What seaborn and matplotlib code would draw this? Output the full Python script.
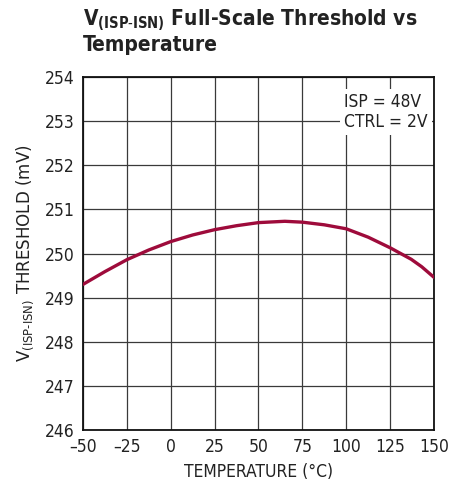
import numpy as np
import pandas as pd
import seaborn as sns
import matplotlib.pyplot as plt

# datos
temperatura = [-50, -37.5, -25, -12.5, 0, 12.5, 25, 37.5, 50, 65, 75, 87.5, 100, 112.5, 125, 137, 143, 150]
umbral_mv = [249.30, 249.59, 249.86, 250.08, 250.27, 250.42, 250.54, 250.63, 250.70, 250.73,
             250.71, 250.65, 250.56, 250.37, 250.13, 249.87, 249.70, 249.46]

x_ticks = [-50, -25, 0, 25, 50, 75, 100, 125, 150]
x_labels = ["\u201350", "\u201325", "0", "25", "50", "75", "100", "125", "150"]
y_ticks = [246, 247, 248, 249, 250, 251, 252, 253, 254]

df = pd.DataFrame({"temp": temperatura, "umbral": umbral_mv})

sns.set_theme(style="white")
plt.rcParams["font.family"] = ["DejaVu Sans"]
plt.rcParams["font.stretch"] = "condensed"
plt.rcParams["mathtext.default"] = "regular"

fig = plt.figure(figsize=(4.65, 4.91), dpi=100)
ax = fig.add_axes([0.1785, 0.1242, 0.7548, 0.719])

sns.lineplot(data=df, x="temp", y="umbral", ax=ax, color="#9E0B3B", linewidth=2.4, zorder=3)

ax.set_xlim(-50, 150)
ax.set_ylim(246, 254)
ax.set_xticks(x_ticks)
ax.set_xticklabels(x_labels)
ax.set_yticks(y_ticks)
ax.grid(True, color="#3a3a3a", linewidth=0.9)
ax.tick_params(length=0, labelsize=12.5, colors="#222222", pad=6)
for s in ax.spines.values():
    s.set_color("#111111")
    s.set_linewidth(1.3)

ax.set_xlabel("TEMPERATURE (\u00b0C)", fontsize=12.5, color="#222222", labelpad=5)
ax.set_ylabel(r"V$_{(ISP\text{-}ISN)}$ THRESHOLD (mV)", fontsize=13.3, color="#222222", labelpad=6)

# caja de condiciones
ax.text(0.745, 0.955, "ISP = 48V\nCTRL = 2V", transform=ax.transAxes, fontsize=12.5,
        color="#222222", ha="left", va="top", linespacing=1.15, zorder=4,
        bbox=dict(facecolor="white", edgecolor="none", pad=3))

fig.text(0.1785, 0.984, r"V$_{(ISP\text{-}ISN)}$ Full-Scale Threshold vs" + "\nTemperature",
         fontsize=15, fontweight="bold", color="#222222", ha="left", va="top", linespacing=1.1)

fig.savefig("out.png", dpi=100)
